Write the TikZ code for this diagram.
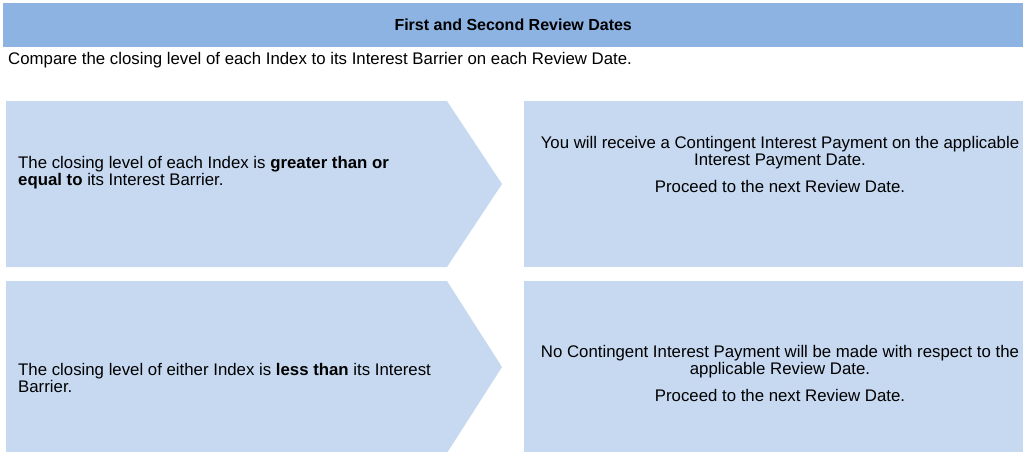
\documentclass[tikz,border=0pt]{standalone}
\usepackage{fontspec}
\setmainfont{Liberation Sans}
\usetikzlibrary{positioning}
\definecolor{headblue}{HTML}{8DB3E2}
\definecolor{boxblue}{HTML}{C6D9F1}
\tikzset{
	txt/.style={inner sep=0pt, font=\fontsize{16.8}{17}\selectfont},
	lefttxt/.style={txt, align=left, anchor=north west},
	righttxt/.style={txt, align=center, anchor=north},
}

\begin{document}
\begin{tikzpicture}[x=1pt,y=-1pt]
		\useasboundingbox (0,0) rectangle (1023,451);
		% header bar
		\node[fill=headblue, inner sep=0pt, minimum width=1020pt, minimum height=44pt, anchor=north west] (head) at (3,3) {};
		\node[txt, font=\fontsize{16}{19}\selectfont\bfseries] (title) at (head.center) {First and Second Review Dates};
		\node[txt, anchor=base west] (intro) at (8,64) {Compare the closing level of each Index to its Interest Barrier on each Review Date.};
		% first row
		\fill[boxblue] (6,101) coordinate (up1) -- (447,101) -- (502,184) coordinate (tip1) -- (447,267) -- (6,267) -- cycle;
		\fill[boxblue] (524,101) coordinate (res1) rectangle (1023,267);
		\node[lefttxt] (cond1) at (18,156) {The closing level of each Index is \textbf{greater than or}\\\textbf{equal to} its Interest Barrier.};
		\node[righttxt] (out1) at (780,136) {You will receive a Contingent Interest Payment on the applicable\\Interest Payment Date.\\[10pt]Proceed to the next Review Date.};
		% second row
		\fill[boxblue] (6,281) coordinate (up2) -- (447,281) -- (502,367) coordinate (tip2) -- (447,453) -- (6,453) -- cycle;
		\fill[boxblue] (524,281) coordinate (res2) rectangle (1023,453);
		\node[lefttxt] (cond2) at (18,363) {The closing level of either Index is \textbf{less than} its Interest\\Barrier.};
		\node[righttxt] (out2) at (780,345) {No Contingent Interest Payment will be made with respect to the\\applicable Review Date.\\[10pt]Proceed to the next Review Date.};
	\end{tikzpicture}
\end{document}
